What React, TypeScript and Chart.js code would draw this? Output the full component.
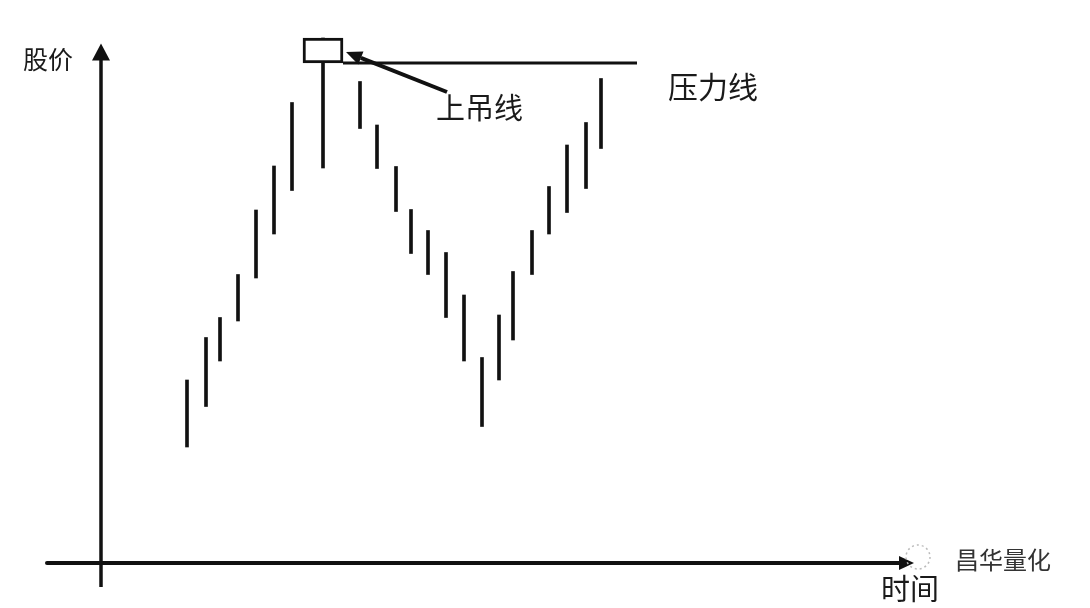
import React, { useEffect, useRef } from "react";
import { Chart, registerables } from "chart.js";
Chart.register(...registerables);

// time units (x) and price units (y)
const times = [8.6, 10.5, 11.9, 13.7, 15.5, 17.3, 19.1, 22.2, 25.9, 27.6, 29.5, 31.0, 32.7, 34.5, 36.3, 38.1, 39.8, 41.2, 43.1, 44.8, 46.6, 48.5, 50.0];
const highs = [36.6, 45.1, 49.1, 57.7, 70.6, 79.4, 92.1, 105, 96.3, 87.6, 79.3, 70.7, 66.5, 62.1, 53.6, 41.1, 49.6, 58.3, 66.5, 75.3, 83.6, 88.1, 96.9];
const lows = [23.2, 31.3, 40.4, 48.4, 57.0, 65.8, 74.5, 79.0, 86.9, 78.9, 70.3, 61.9, 57.7, 49.1, 40.4, 27.3, 36.6, 44.6, 57.7, 65.8, 70.1, 74.9, 82.9];
const hangingIndex = 7;
const hangingBody = [100, 105];
const resistanceLevel = 100;
const resistanceStart = 24.2;
const resistanceEnd = 53.6;

const yAxisTitle = "股价";
const xAxisTitle = "时间";
const hangingLabel = "上吊线";
const resistanceLabel = "压力线";
const watermark = "昌华量化";

const FONT = '"Noto Sans CJK SC", "Noto Sans", sans-serif';
const INK = "#111";

const overlay = {
  id: "overlay",
  beforeDatasetsDraw(chart: any) {
    const { ctx } = chart;
    const xs = chart.scales.x;
    const ys = chart.scales.y;
    const px = (v: number) => xs.getPixelForValue(v);
    const py = (v: number) => ys.getPixelForValue(v);
    ctx.save();
    ctx.strokeStyle = INK;
    ctx.fillStyle = INK;
    // y axis
    const ax = px(0);
    const tipY = py(103.9);
    ctx.lineWidth = 3.5;
    ctx.beginPath();
    ctx.moveTo(ax, py(-4.8));
    ctx.lineTo(ax, tipY + 10);
    ctx.stroke();
    ctx.beginPath();
    ctx.moveTo(ax, tipY);
    ctx.lineTo(ax - 9, tipY + 17);
    ctx.lineTo(ax + 9, tipY + 17);
    ctx.closePath();
    ctx.fill();
    // x axis
    const ay = py(0);
    const tipX = px(81.3);
    ctx.lineWidth = 4;
    ctx.lineCap = "round";
    ctx.beginPath();
    ctx.moveTo(px(-5.4), ay);
    ctx.lineTo(tipX - 10, ay);
    ctx.stroke();
    ctx.lineCap = "butt";
    ctx.beginPath();
    ctx.moveTo(tipX, ay);
    ctx.lineTo(tipX - 15, ay - 7);
    ctx.lineTo(tipX - 15, ay + 7);
    ctx.closePath();
    ctx.fill();
    ctx.restore();
  },
  afterDatasetsDraw(chart: any) {
    const { ctx } = chart;
    const xs = chart.scales.x;
    const ys = chart.scales.y;
    const px = (v: number) => xs.getPixelForValue(v);
    const py = (v: number) => ys.getPixelForValue(v);
    ctx.save();
    // pointer arrow from label to hanging man
    const x0 = px(34.6), y0 = py(94.2);
    const x1 = px(24.5), y1 = py(102.2);
    const ang = Math.atan2(y1 - y0, x1 - x0);
    const headLen = 16;
    const bx = x1 - headLen * Math.cos(ang);
    const by = y1 - headLen * Math.sin(ang);
    ctx.strokeStyle = INK;
    ctx.fillStyle = INK;
    ctx.lineWidth = 4;
    ctx.beginPath();
    ctx.moveTo(x0, y0);
    ctx.lineTo(bx, by);
    ctx.stroke();
    ctx.beginPath();
    ctx.moveTo(x1, y1);
    ctx.lineTo(bx + 7 * Math.sin(ang), by - 7 * Math.cos(ang));
    ctx.lineTo(bx - 7 * Math.sin(ang), by + 7 * Math.cos(ang));
    ctx.closePath();
    ctx.fill();

    // watermark icon
    ctx.strokeStyle = "#bbb";
    ctx.lineWidth = 1.5;
    ctx.setLineDash([2, 3]);
    ctx.beginPath();
    ctx.arc(px(81.7), py(1.2), 12, 0, Math.PI * 2);
    ctx.stroke();
    ctx.setLineDash([]);

    // texts
    ctx.textBaseline = "middle";
    ctx.textAlign = "left";
    ctx.fillStyle = "#1a1a1a";
    ctx.font = `25px ${FONT}`;
    ctx.fillText(yAxisTitle, px(-7.8), py(100.8));
    ctx.font = `29px ${FONT}`;
    ctx.fillText(hangingLabel, px(33.5), py(91));
    ctx.font = `30px ${FONT}`;
    ctx.fillText(resistanceLabel, px(56.7), py(95.2));
    ctx.font = `29px ${FONT}`;
    ctx.fillText(xAxisTitle, px(78.0), py(-5.2));
    ctx.fillStyle = "#333";
    ctx.font = `24px ${FONT}`;
    ctx.fillText(watermark, px(85.4), py(0.6));
    ctx.restore();
  },
};

export default function App() {
  const ref = useRef<HTMLCanvasElement | null>(null);
  useEffect(() => {
    if (!ref.current) return;
    const chart = new Chart(ref.current, {
      type: "bar",
      data: {
        datasets: [
          {
            type: "bar",
            data: times.map((t, i) => ({ x: t, y: [lows[i], highs[i]] })) as any,
            backgroundColor: INK,
            borderWidth: 0,
            barThickness: 3,
            grouped: false,
            order: 3,
          } as any,
          {
            type: "bar",
            data: [{ x: times[hangingIndex], y: hangingBody }] as any,
            backgroundColor: "#fff",
            borderColor: INK,
            borderWidth: 3,
            borderSkipped: false,
            barThickness: 40,
            grouped: false,
            order: 2,
          } as any,
          {
            type: "line",
            data: [
              { x: resistanceStart, y: resistanceLevel },
              { x: resistanceEnd, y: resistanceLevel },
            ],
            borderColor: INK,
            borderWidth: 3,
            pointRadius: 0,
            order: 1,
          } as any,
        ],
      },
      options: {
        responsive: false,
        animation: false,
        layout: { padding: 0 },
        plugins: { legend: { display: false }, tooltip: { enabled: false } },
        scales: {
          x: { type: "linear", min: -10.1, max: 98.9, offset: false, display: false },
          y: { type: "linear", min: -9, max: 112.6, display: false },
        },
      },
      plugins: [overlay],
    });
    return () => chart.destroy();
  }, []);
  return (
    <div style={{ position: "absolute", left: 0, top: 0, width: 1090, height: 608, background: "#fff" }}>
      <canvas ref={ref} width={1090} height={608} />
    </div>
  );
}
